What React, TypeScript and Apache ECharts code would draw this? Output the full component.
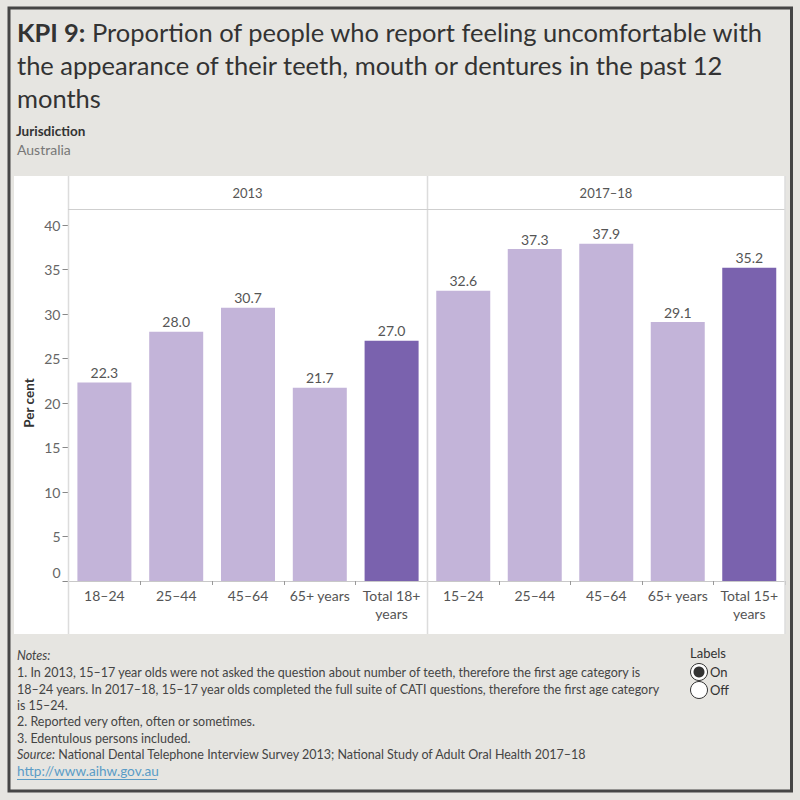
import React, { useEffect, useRef } from "react";
import * as echarts from "echarts";

const panelTitles = ["2013", "2017–18"];
const categories2013 = ["18–24", "25–44", "45–64", "65+ years", "Total 18+\nyears"];
const values2013 = [22.3, 28.0, 30.7, 21.7, 27.0];
const categories2017 = ["15–24", "25–44", "45–64", "65+ years", "Total 15+\nyears"];
const values2017 = [32.6, 37.3, 37.9, 29.1, 35.2];
const totalIndex = 4;
const yMin = 0;
const yMax = 40;
const yInterval = 5;

const titleLines = [
  "Proportion of people who report feeling uncomfortable with",
  "the appearance of their teeth, mouth or dentures in the past 12",
  "months",
];
const noteLines = [
  "1. In 2013, 15–17 year olds were not asked the question about number of teeth, therefore the first age category is",
  "18–24 years. In 2017–18, 15–17 year olds completed the full suite of CATI questions, therefore the first age category",
  "is 15–24.",
  "2. Reported very often, often or sometimes.",
  "3. Edentulous persons included.",
];
const sourceText = "National Dental Telephone Interview Survey 2013; National Study of Adult Oral Health 2017–18";
const linkText = "http://www.aihw.gov.au";

const FONT = "Lato";
const LIGHT = "#C3B4D9";
const DARK = "#7A62AE";

function barData(values: number[]) {
  return values.map((v, i) => ({
    value: v,
    itemStyle: { color: i === totalIndex ? DARK : LIGHT },
  }));
}

export default function App() {
  const ref = useRef<HTMLDivElement>(null);
  useEffect(() => {
    if (!ref.current) return;
    const chart = echarts.init(ref.current, undefined, { renderer: "svg" });

    const xAxisCommon = {
      type: "category" as const,
      axisLine: { show: true, lineStyle: { color: "#c8c8c8", width: 1 } },
      axisTick: { show: true, interval: 0, length: 4, lineStyle: { color: "#999" } },
      axisLabel: {
        interval: 0,
        color: "#555",
        fontSize: 14,
        fontFamily: FONT,
        margin: 5,
        lineHeight: 18,
      },
    };

    const labelCommon = {
      show: true,
      position: "top" as const,
      distance: 3,
      color: "#555",
      fontSize: 14,
      fontFamily: FONT,
      formatter: (p: any) => Number(p.value).toFixed(1),
    };

    const graphics: any[] = [];
    graphics.push({
      type: "rect",
      shape: { x: 9, y: 8, width: 782.5, height: 783 },
      style: { fill: "none", stroke: "#454545", lineWidth: 3 },
      z: 100,
    });
    graphics.push({
      type: "rect",
      shape: { x: 14, y: 176, width: 771, height: 458 },
      style: { fill: "#ffffff" },
      z: -10,
    });
    const gray = "#dcdcdc";
    graphics.push({ type: "line", shape: { x1: 68.5, y1: 176, x2: 68.5, y2: 634 }, style: { stroke: gray, lineWidth: 1.5 }, z: 1 });
    graphics.push({ type: "line", shape: { x1: 427.5, y1: 176, x2: 427.5, y2: 634 }, style: { stroke: gray, lineWidth: 1.5 }, z: 1 });
    graphics.push({ type: "line", shape: { x1: 68, y1: 209.5, x2: 785, y2: 209.5 }, style: { stroke: "#cfcfcf", lineWidth: 1 }, z: 1 });
    graphics.push({ type: "line", shape: { x1: 785, y1: 176, x2: 785, y2: 634 }, style: { stroke: gray, lineWidth: 1.5 }, z: 1 });
    graphics.push({ type: "text", x: 247.5, y: 193, style: { text: panelTitles[0], fill: "#555", font: `13px ${FONT}`, align: "center", verticalAlign: "middle" } });
    graphics.push({ type: "text", x: 606, y: 193, style: { text: panelTitles[1], fill: "#555", font: `13px ${FONT}`, align: "center", verticalAlign: "middle" } });

    const TF = 25.5;
    graphics.push({
      type: "text",
      x: 17,
      y: 32,
      style: {
        text: "{b|KPI 9:}{n| " + titleLines[0] + "}",
        verticalAlign: "middle",
        rich: {
          b: { font: `bold ${TF}px ${FONT}`, fill: "#333" },
          n: { font: `${TF}px ${FONT}`, fill: "#333" },
        },
      },
    });
    graphics.push({ type: "text", x: 17, y: 65, style: { text: titleLines[1], font: `${TF}px ${FONT}`, fill: "#333", verticalAlign: "middle" } });
    graphics.push({ type: "text", x: 17, y: 98, style: { text: titleLines[2], font: `${TF}px ${FONT}`, fill: "#333", verticalAlign: "middle" } });

    graphics.push({ type: "text", x: 16, y: 131, style: { text: "Jurisdiction", font: `bold 13.5px ${FONT}`, fill: "#333", verticalAlign: "middle" } });
    graphics.push({ type: "text", x: 17, y: 149, style: { text: "Australia", font: `14px ${FONT}`, fill: "#777", verticalAlign: "middle" } });

    graphics.push({ type: "text", x: 17, y: 655, style: { text: "Notes:", font: `italic 12.5px ${FONT}`, fill: "#444", verticalAlign: "middle" } });
    const noteYs = [672, 689, 705, 721, 738];
    noteLines.forEach((t, i) => {
      graphics.push({ type: "text", x: 17, y: noteYs[i], style: { text: t, font: `12.5px ${FONT}`, fill: "#444", verticalAlign: "middle" } });
    });
    graphics.push({
      type: "text",
      x: 17,
      y: 754,
      style: {
        text: "{i|Source:}{n| " + sourceText + "}",
        verticalAlign: "middle",
        rich: {
          i: { font: `italic 12.5px ${FONT}`, fill: "#444" },
          n: { font: `12.5px ${FONT}`, fill: "#444" },
        },
      },
    });
    graphics.push({ type: "text", x: 17, y: 771, style: { text: linkText, font: `13.6px ${FONT}`, fill: "#5a9cc6", verticalAlign: "middle" } });
    graphics.push({ type: "line", shape: { x1: 17, y1: 779.5, x2: 157, y2: 779.5 }, style: { stroke: "#5a9cc6", lineWidth: 1 } });

    graphics.push({ type: "text", x: 690, y: 653, style: { text: "Labels", font: `13px ${FONT}`, fill: "#333", verticalAlign: "middle" } });
    graphics.push({ type: "circle", shape: { cx: 699, cy: 672, r: 8.5 }, style: { fill: "#fff", stroke: "#333", lineWidth: 1 } });
    graphics.push({ type: "circle", shape: { cx: 699, cy: 672, r: 5.5 }, style: { fill: "#333" } });
    graphics.push({ type: "circle", shape: { cx: 699, cy: 690, r: 8.5 }, style: { fill: "#fff", stroke: "#333", lineWidth: 1 } });
    graphics.push({ type: "text", x: 710, y: 672, style: { text: "On", font: `13px ${FONT}`, fill: "#333", verticalAlign: "middle" } });
    graphics.push({ type: "text", x: 710, y: 690, style: { text: "Off", font: `13px ${FONT}`, fill: "#333", verticalAlign: "middle" } });

    const option: any = {
      animation: false,
      backgroundColor: "#e6e5e1",
      textStyle: { fontFamily: FONT },
      grid: [
        { left: 68.5, top: 225, width: 359, height: 356, containLabel: false },
        { left: 427.5, top: 225, width: 357.5, height: 356, containLabel: false },
      ],
      xAxis: [
        { ...xAxisCommon, gridIndex: 0, data: categories2013 },
        { ...xAxisCommon, gridIndex: 1, data: categories2017 },
      ],
      yAxis: [
        {
          type: "value",
          gridIndex: 0,
          min: yMin,
          max: yMax,
          interval: yInterval,
          axisLine: { show: false },
          axisTick: { show: true, length: 6, lineStyle: { color: "#888" } },
          splitLine: { show: false },
          axisLabel: {
            color: "#666",
            fontSize: 14,
            fontFamily: FONT,
            margin: 8,
            formatter: (v: number) => (v === 0 ? "{z|0}" : String(v)),
            rich: { z: { padding: [0, 0, 18, 0], color: "#666", fontSize: 14, fontFamily: FONT } },
          },
          name: "Per cent",
          nameLocation: "middle",
          nameGap: 33,
          nameRotate: 90,
          nameTextStyle: { color: "#333", fontSize: 13.5, fontWeight: "bold", fontFamily: FONT },
        },
        {
          type: "value",
          gridIndex: 1,
          min: yMin,
          max: yMax,
          interval: yInterval,
          show: false,
          splitLine: { show: false },
        },
      ],
      series: [
        {
          type: "bar",
          xAxisIndex: 0,
          yAxisIndex: 0,
          data: barData(values2013),
          barWidth: 54,
          label: labelCommon,
        },
        {
          type: "bar",
          xAxisIndex: 1,
          yAxisIndex: 1,
          data: barData(values2017),
          barWidth: 54,
          label: labelCommon,
        },
      ],
      graphic: graphics,
    };
    chart.setOption(option);
    return () => chart.dispose();
  }, []);

  return (
    <div
      ref={ref}
      style={{ position: "fixed", left: 0, top: 0, width: 800, height: 800 }}
    />
  );
}
